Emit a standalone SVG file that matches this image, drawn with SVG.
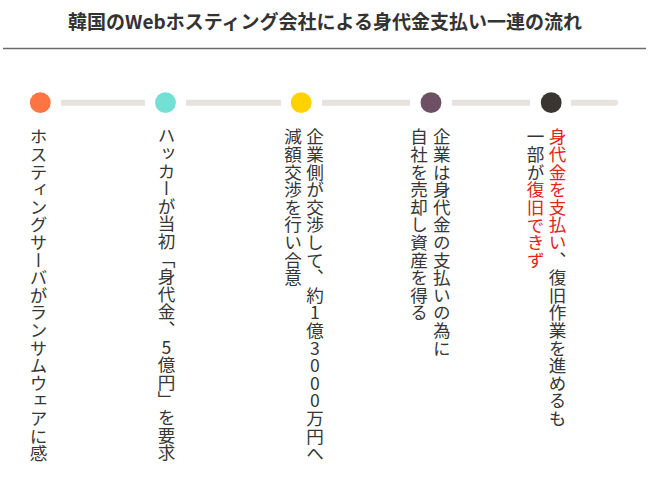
<svg xmlns="http://www.w3.org/2000/svg" width="649" height="490" viewBox="0 0 649 490">
<style>
.title{font-family:"Noto Sans CJK JP","Noto Sans",sans-serif;font-size:19px;font-weight:bold;fill:#333;}
.v{font-family:"Noto Sans CJK JP","Noto Sans",sans-serif;font-size:17.6px;font-weight:400;fill:#363636;writing-mode:vertical-rl;text-orientation:upright;}
.red{fill:#e32419;}
.conn{stroke:#e6e2df;stroke-width:6;fill:none;}
</style>
<rect width="649" height="490" fill="#ffffff"/>
<text class="title" x="325" y="29" text-anchor="middle">韓国のWebホスティング会社による身代金支払い一連の流れ</text>
<line x1="3" y1="48.5" x2="646" y2="48.5" stroke="#6b6b6b" stroke-width="1.5"/>
<g id="connectors">
<line class="conn" x1="61" y1="102.7" x2="145" y2="102.7"/>
<line class="conn" x1="186" y1="102.7" x2="281" y2="102.7"/>
<line class="conn" x1="322" y1="102.7" x2="410" y2="102.7"/>
<line class="conn" x1="452" y1="102.7" x2="530" y2="102.7"/>
<path d="M571,99.7 H615 A3,3 0 0 1 615,105.7 H571 Z" fill="#e6e2df"/>
</g>
<g id="node1">
<circle cx="40.3" cy="102.7" r="10.4" fill="#ff7443"/>
<text class="v" x="38.5" y="128">ホスティングサーバがランサムウェアに感</text>
</g>
<g id="node2">
<circle cx="165.5" cy="102.7" r="10.4" fill="#74dfd5"/>
<text class="v" x="166.5" y="127">ハッカーが当初「身代金、5億円」を要求</text>
</g>
<g id="node3">
<circle cx="301.2" cy="102.7" r="10.4" fill="#ffd200"/>
<text class="v" x="315" y="128">企業側が交渉して、約1億3000万円へ</text>
<text class="v" x="293" y="128">減額交渉を行い合意</text>
</g>
<g id="node4">
<circle cx="431" cy="102.7" r="10.4" fill="#6d5063"/>
<text class="v" x="441.7" y="128">企業は身代金の支払いの為に</text>
<text class="v" x="419" y="128">自社を売却し資産を得る</text>
</g>
<g id="node5">
<circle cx="551.2" cy="102.7" r="10.4" fill="#3b3531"/>
<text class="v" x="557.5" y="128"><tspan class="red">身代金を支払い</tspan>、復旧作業を進めるも</text>
<text class="v" x="535.5" y="128">一部が<tspan class="red">復旧できず</tspan></text>
</g>
</svg>
